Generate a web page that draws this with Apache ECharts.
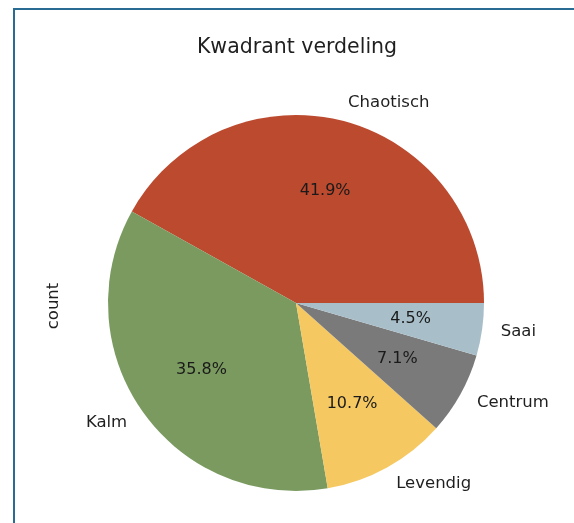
<!DOCTYPE html>
<html>
<head>
<meta charset="utf-8">
<script src="https://cdn.jsdelivr.net/npm/echarts@6/dist/echarts.min.js"></script>
<style>
  html, body { margin: 0; padding: 0; background: #fff; }
  #chart { width: 574px; height: 523px; }
  #frame {
    position: absolute; left: 13px; top: 8px; width: 600px; height: 600px;
    border-left: 2px solid #2a6b93; border-top: 2px solid #2a6b93;
    pointer-events: none;
  }
</style>
</head>
<body>
<div id="chart"></div>
<div id="frame"></div>
<script>
// kwadrant shares (percent of count)
const categories = ['Chaotisch', 'Kalm', 'Levendig', 'Centrum', 'Saai'];
const shares = [41.9, 35.8, 10.7, 7.1, 4.5];
const colors = ['#bb4a2f', '#7a9a60', '#f5c862', '#7a7a7a', '#a8bfca'];

const font = 'DejaVu Sans';
const R = 188;
const center = [296, 303];

const chart = echarts.init(document.getElementById('chart'));

const pieData = categories.map((name, i) => ({
  name,
  value: shares[i],
  itemStyle: { color: colors[i] }
}));

chart.setOption({
  animation: false,
  title: {
    text: 'Kwadrant verdeling',
    left: 292,
    textAlign: 'center',
    top: 32,
    textStyle: { fontFamily: font, fontSize: 20.5, fontWeight: 'normal', color: '#1f1f1f' }
  },
  graphic: [{
    type: 'text',
    x: 54, y: 306,
    rotation: Math.PI / 2,
    style: {
      text: 'count', fontFamily: font, fontSize: 16.5, fill: '#1f1f1f',
      align: 'center', verticalAlign: 'middle'
    }
  }],
  series: [
    {
      // the visible pie with category labels at 1.1 r
      type: 'pie',
      center,
      radius: [0, R],
      startAngle: 0,
      clockwise: false,
      avoidLabelOverlap: false,
      silent: true,
      itemStyle: { borderWidth: 0 },
      label: {
        show: true,
        position: 'outside',
        distanceToLabelLine: 0,
        fontFamily: font,
        fontSize: 16.5,
        color: '#1f1f1f',
        formatter: '{b}'
      },
      labelLine: { show: false, length: R * 0.1, length2: 0 },
      data: pieData
    },
    {
      // transparent ring, used only to place percentages at 0.6 r
      type: 'pie',
      center,
      radius: [0, R * 1.2],
      startAngle: 0,
      clockwise: false,
      silent: true,
      itemStyle: { color: 'rgba(0,0,0,0)', borderWidth: 0 },
      label: {
        show: true,
        position: 'inner',
        fontFamily: font,
        fontSize: 16,
        color: '#1a1a1a',
        formatter: p => p.value.toFixed(1) + '%'
      },
      labelLine: { show: false },
      data: categories.map((name, i) => ({ name, value: shares[i] }))
    }
  ]
});
</script>
</body>
</html>
